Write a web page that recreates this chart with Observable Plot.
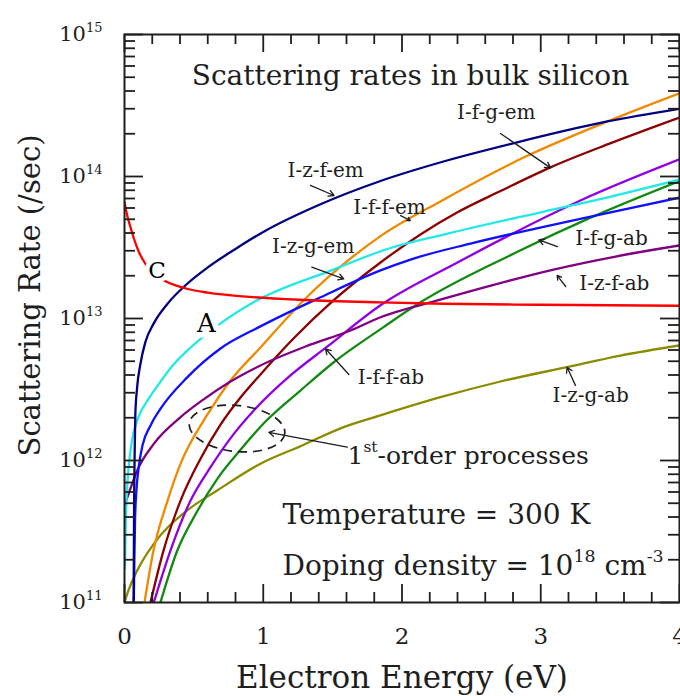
<!DOCTYPE html>
<html><head><meta charset="utf-8">
<script src="https://cdn.jsdelivr.net/npm/d3@7"></script>
<script src="https://cdn.jsdelivr.net/npm/@observablehq/plot@0.6"></script>
<style>
html,body{margin:0;padding:0;background:#fff;}
#chart svg{display:block;}
#chart text{white-space:pre;}
</style>
</head><body><div id="chart"></div>
<script>
// ---------- data ----------
const redE    = [0, 0.02, 0.043, 0.07, 0.1, 0.15, 0.2, 0.3, 0.45, 0.6, 0.9, 1.3, 1.84, 2.3, 3.0, 4.0];
const redR    = [6.6e13, 5.3e13, 4.4e13, 3.6e13, 3.0e13, 2.43e13, 2.1e13, 1.82e13, 1.62e13, 1.52e13, 1.42e13, 1.35e13, 1.30e13, 1.27e13, 1.25e13, 1.23e13];

const navyE   = [0.066, 0.068, 0.070, 0.073, 0.078, 0.09, 0.115, 0.15, 0.21, 0.31, 0.45, 0.6, 0.8, 1.0, 1.4, 1.845, 2.28, 2.83, 3.48, 4.0];
const navyR   = [1e11, 3e11, 6e11, 1.1e12, 2.1e12, 3.2e12, 4.8e12, 6.8e12, 9.2e12, 1.27e13, 1.75e13, 2.29e13, 3.09e13, 4.07e13, 6.3e13, 9.3e13, 1.26e14, 1.74e14, 2.44e14, 3.0e14];

const cyanE   = [0.003, 0.007, 0.013, 0.022, 0.036, 0.054, 0.079, 0.115, 0.166, 0.26, 0.353, 0.454, 0.69, 0.93, 1.5, 1.9, 2.3, 3.0, 3.5, 4.0];
const cyanR   = [1.73e11, 2.96e11, 4.8e11, 7.2e11, 1.03e12, 1.38e12, 1.76e12, 2.18e12, 2.65e12, 3.6e12, 4.74e12, 5.96e12, 9.2e12, 1.3e13, 2.2e13, 3.1e13, 3.9e13, 5.6e13, 7.2e13, 9.5e13];

const blueE   = [0.067, 0.071, 0.076, 0.086, 0.104, 0.13, 0.187, 0.26, 0.452, 0.692, 0.98, 1.413, 1.845, 2.061, 2.494, 2.962, 3.503, 4.0];
const blueR   = [1e11, 1.98e11, 3.78e11, 6.15e11, 9.2e11, 1.28e12, 1.76e12, 2.32e12, 3.85e12, 6.15e12, 8.8e12, 1.41e13, 2.18e13, 2.6e13, 3.37e13, 4.3e13, 5.58e13, 7.1e13];

const purpleE = [0, 0.043, 0.0915, 0.211, 0.404, 0.56, 0.764, 0.98, 1.305, 1.629, 1.845, 2.256, 2.674, 3.092, 3.539, 4.0];
const purpleR = [4.82e11, 6.35e11, 8.5e11, 1.31e12, 2.02e12, 2.65e12, 3.6e12, 4.67e12, 6.35e12, 8.23e12, 1.02e13, 1.34e13, 1.74e13, 2.21e13, 2.73e13, 3.27e13];

const orangeE = [0.144, 0.209, 0.31, 0.404, 0.598, 0.764, 0.98, 1.29, 1.845, 2.277, 2.876, 3.48, 4.0];
const orangeR = [1e11, 2.32e11, 5.2e11, 9.5e11, 2.11e12, 3.66e12, 6.25e12, 1.34e13, 3.8e13, 6.68e13, 1.36e14, 2.44e14, 3.85e14];

const maroonE = [0.187, 0.281, 0.404, 0.548, 0.692, 0.836, 0.98, 1.218, 1.506, 1.845, 2.133, 2.40, 2.71, 3.07, 3.50, 4.0];
const maroonR = [1e11, 2.32e11, 5.22e11, 1.03e12, 1.79e12, 2.78e12, 4.04e12, 7.23e12, 1.34e13, 2.48e13, 3.91e13, 5.6e13, 7.9e13, 1.16e14, 1.71e14, 2.6e14];

const violetE = [0.211, 0.331, 0.476, 0.62, 0.788, 0.932, 1.196, 1.463, 1.845, 2.40, 3.286, 4.0];
const violetR = [1e11, 2.32e11, 5.22e11, 8.97e11, 1.54e12, 2.25e12, 3.97e12, 6.36e12, 1.24e13, 2.48e13, 6.78e13, 1.32e14];

const greenE  = [0.259, 0.375, 0.519, 0.67, 0.836, 1.016, 1.268, 1.506, 1.867, 2.133, 2.832, 3.359, 4.0];
const greenR  = [1e11, 2.25e11, 4.3e11, 7.46e11, 1.19e12, 1.88e12, 3.11e12, 4.9e12, 8.7e12, 1.30e13, 2.95e13, 5.13e13, 9.3e13];

const oliveE  = [0, 0.029, 0.0915, 0.211, 0.452, 0.668, 0.98, 1.268, 1.58, 1.845, 2.277, 2.71, 3.19, 3.575, 4.0];
const oliveR  = [1e11, 1.22e11, 1.68e11, 2.59e11, 4.45e11, 6.15e11, 9.5e11, 1.26e12, 1.72e12, 2.08e12, 2.79e12, 3.6e12, 4.55e12, 5.48e12, 6.46e12];

const seriesNames  = ["olive", "green", "violet", "maroon", "orange", "purple", "blue", "cyan", "navy", "red"];
const seriesColors = ["#8b8b00", "#128a12", "#9000e0", "#8b0000", "#ee8a00", "#800080", "#1010ff", "#22e8e8", "#000080", "#ff0000"];
const seriesE = [oliveE, greenE, violetE, maroonE, orangeE, purpleE, blueE, cyanE, navyE, redE];
const seriesR = [oliveR, greenR, violetR, maroonR, orangeR, purpleR, blueR, cyanR, navyR, redR];

// tick labels
const xMajor = [0, 1, 2, 3, 4];
const yMajor = [1e11, 1e12, 1e13, 1e14, 1e15];

// curve labels
const labelText = ["I-f-g-em", "I-z-f-em", "I-f-f-em", "I-z-g-em", "I-f-g-ab", "I-z-f-ab", "I-f-f-ab", "I-z-g-ab"];
const labelE    = [2.68, 1.45, 1.91, 1.36, 3.51, 3.53, 1.92, 3.36];
const labelR    = [2.82e14, 1.10e14, 6.05e13, 3.21e13, 3.66e13, 1.76e13, 3.84e12, 2.87e12];

// arrows (label -> curve)
const arrowFromE = [2.71, 1.34, 1.99, 1.35, 3.12, 3.18, 1.617, 3.25, 1.605];
const arrowFromR = [2.01e14, 8.65e13, 5.3e13, 2.3e13, 3.21e13, 1.68e13, 4.03e12, 3.38e12, 1.24e12];
const arrowToE   = [3.07, 1.51, 2.06, 1.58, 2.986, 3.118, 1.449, 3.19, 1.04];
const arrowToR   = [1.15e14, 7.35e13, 4.9e13, 1.9e13, 3.58e13, 2.01e13, 6.12e12, 4.54e12, 1.58e12];

// other annotations
const letterText = ["C", "A"];
const letterE    = [0.234, 0.591];
const letterR    = [2.18e13, 9.2e12];

const noteText = ["Temperature = 300 K", "Doping density = 10^{18} cm^{-3}", "1^{st}-order processes"];
const noteE    = [1.139, 1.139, 1.607];
const noteR    = [4.1e11, 1.82e11, 1.08e12];

const titleText = "Scattering rates in bulk silicon";
const titleE = 2.061, titleR = 5.06e14;

const ellipseE = 0.811, ellipseR = 1.68e12;

// ---------- build tables ----------
const rows = seriesNames.map((n, i) => seriesE[i].map((e, j) => ({name: n, E: e, R: seriesR[i][j]})));
const labels = labelText.map((t, i) => ({t, E: labelE[i], R: labelR[i]}));
const arrows = arrowFromE.map((e, i) => ({x1: e, y1: arrowFromR[i], x2: arrowToE[i], y2: arrowToR[i]}));
const letters = letterText.map((t, i) => ({t, E: letterE[i], R: letterR[i]}));
const notes = noteText.map((t, i) => ({t, E: noteE[i], R: noteR[i]}));

const yMinor = yMajor.slice(0, -1).flatMap(d => [2,3,4,5,6,7,8,9].map(k => k * d));
const xMinor = d3.range(0.2, 4, 0.2).filter(d => Math.abs(d - Math.round(d)) > 1e-6);

const W = 680, H = 696, mL = 124, mR = 1, mT = 34, mB = 94;
const pW = W - mL - mR, pH = H - mT - mB;
const ink = "#1e1e1e";

// dashed tilted ellipse symbol
const ellipseSymbol = {
  draw(ctx) {
    const rx = 48, ry = 23, k = 0.5523, a = 6 * Math.PI / 180;
    const c = Math.cos(a), s = Math.sin(a);
    const p = (x, y) => [x * c - y * s, x * s + y * c];
    const m = p(rx, 0); ctx.moveTo(m[0], m[1]);
    const segs = [
      [[rx, ry*k], [rx*k, ry], [0, ry]],
      [[-rx*k, ry], [-rx, ry*k], [-rx, 0]],
      [[-rx, -ry*k], [-rx*k, -ry], [0, -ry]],
      [[rx*k, -ry], [rx, -ry*k], [rx, 0]]
    ];
    for (const sg of segs) {
      const q = sg.map(v => p(v[0], v[1]));
      ctx.bezierCurveTo(q[0][0], q[0][1], q[1][0], q[1][1], q[2][0], q[2][1]);
    }
    ctx.closePath();
  }
};

const font = "DejaVu Serif";

const marks = [];
rows.forEach((data, i) => {
  marks.push(Plot.line(data, {x: "E", y: "R", stroke: seriesColors[i], strokeWidth: 2.3, curve: "monotone-x", clip: true}));
});
marks.push(
  Plot.text(letters.slice(0,1), {x: "E", y: "R", text: "t", fontSize: 23, fill: "black", stroke: "white", strokeWidth: 9}),
  Plot.text(letters.slice(1), {x: "E", y: "R", text: "t", fontSize: 26, fill: "black", stroke: "white", strokeWidth: 11}),
  Plot.dot([{E: ellipseE, R: ellipseR}], {x: "E", y: "R", symbol: ellipseSymbol, r: 3, fill: "none", stroke: ink, strokeWidth: 1.7, strokeDasharray: "9,6"}),
  Plot.arrow(arrows, {x1: "x1", y1: "y1", x2: "x2", y2: "y2", stroke: ink, strokeWidth: 1.3, headLength: 7}),
  Plot.text(labels, {x: "E", y: "R", text: "t", fontSize: 20, fill: ink}),
  Plot.text(notes.slice(0,2), {x: "E", y: "R", text: "t", fontSize: 28, textAnchor: "start", fill: ink}),
  Plot.text(notes.slice(2), {x: "E", y: "R", text: "t", fontSize: 25, textAnchor: "start", fill: ink}),
  Plot.text([titleText], {x: () => titleE, y: () => titleR, fontSize: 28, fill: ink}),
  // ticks (inside the frame)
  Plot.tickY(yMinor, {y: d => d, insetRight: pW - 11, stroke: ink, strokeWidth: 1.8}),
  Plot.tickY(yMajor, {y: d => d, insetRight: pW - 19, stroke: ink, strokeWidth: 1.8}),
  Plot.tickY(yMinor, {y: d => d, insetLeft: pW - 11, stroke: ink, strokeWidth: 1.8}),
  Plot.tickY(yMajor, {y: d => d, insetLeft: pW - 19, stroke: ink, strokeWidth: 1.8}),
  Plot.tickX(xMinor, {x: d => d, insetTop: pH - 10, stroke: ink, strokeWidth: 1.8}),
  Plot.tickX(xMajor, {x: d => d, insetTop: pH - 18, stroke: ink, strokeWidth: 1.8}),
  Plot.tickX(xMinor, {x: d => d, insetBottom: pH - 10, stroke: ink, strokeWidth: 1.8}),
  Plot.tickX(xMajor, {x: d => d, insetBottom: pH - 18, stroke: ink, strokeWidth: 1.8}),
  Plot.frame({stroke: ink, strokeWidth: 2}),
  Plot.axisX(xMajor, {anchor: "bottom", tickSize: 0, tickPadding: 25, fontSize: 23, tickFormat: d => String(d), label: null, fill: ink}),
  Plot.axisY(yMajor, {anchor: "left", tickSize: 0, tickPadding: 22, fontSize: 21, tickFormat: d => `10^{${Math.round(Math.log10(d))}}`, label: null, fill: ink}),
  Plot.text(["Electron Energy (eV)"], {frameAnchor: "bottom", lineAnchor: "middle", textAnchor: "middle", dy: 76, fontSize: 31, fill: ink}),
  Plot.text(["Scattering Rate (/sec)"], {frameAnchor: "left", textAnchor: "middle", lineAnchor: "middle", rotate: -90, dx: -94, dy: -23, fontSize: 29, fill: ink})
);

const chart = Plot.plot({
  width: W, height: H,
  marginLeft: mL, marginRight: mR, marginTop: mT, marginBottom: mB,
  style: {fontFamily: font, background: "white", overflow: "visible"},
  x: {domain: [0, 4]},
  y: {type: "log", domain: [1e11, 1e15]},
  marks
});
document.getElementById("chart").appendChild(chart);

// turn ^{...} into superscript tspans
function supify(root) {
  const ns = "http://www.w3.org/2000/svg";
  root.querySelectorAll("text").forEach(t => {
    const s = t.textContent;
    if (!s.includes("^{")) return;
    const fs = parseFloat(getComputedStyle(t).fontSize) || 16;
    const parts = s.split(/(\^\{[^}]*\})/).filter(p => p.length);
    while (t.firstChild) t.removeChild(t.firstChild);
    let raised = false;
    parts.forEach(p => {
      const ts = document.createElementNS(ns, "tspan");
      if (p.startsWith("^{")) {
        ts.textContent = p.slice(2, -1);
        ts.setAttribute("font-size", (fs * 0.62).toFixed(1));
        ts.setAttribute("dy", (-fs * 0.45).toFixed(1));
        raised = true;
      } else {
        ts.textContent = p;
        if (raised) { ts.setAttribute("dy", (fs * 0.45).toFixed(1)); raised = false; }
      }
      t.appendChild(ts);
    });
  });
}
supify(chart);
</script></body></html>
